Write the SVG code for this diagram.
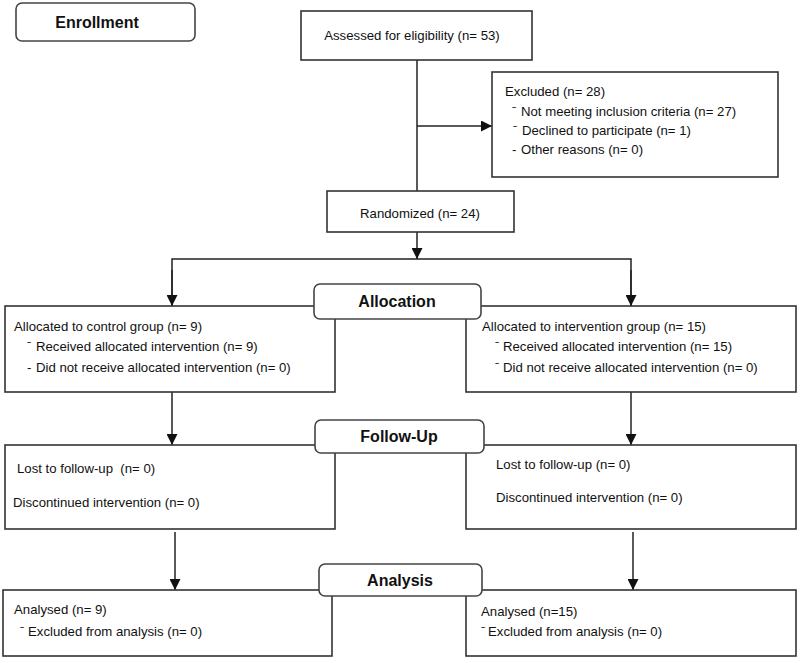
<svg xmlns="http://www.w3.org/2000/svg" width="800" height="663" viewBox="0 0 800 663">
<style>
.box{fill:#fff;stroke:#333;stroke-width:1.6}
.lbl{fill:#fff;stroke:#444;stroke-width:1.6}
.t{font-family:"Liberation Sans",Arial,sans-serif;font-size:13.2px;fill:#111}
.h{font-family:"Liberation Sans",Arial,sans-serif;font-size:16px;font-weight:bold;fill:#111;text-anchor:middle}
.c{text-anchor:middle}
.con{fill:none;stroke:#222;stroke-width:1.5}
</style>
<defs>
<marker id="arr" markerWidth="11" markerHeight="11" refX="11" refY="5.5" orient="auto" markerUnits="userSpaceOnUse">
<path d="M0,0 L11,5.5 L0,11 z" fill="#111"/>
</marker>
</defs>
<rect width="800" height="663" fill="#fff"/>

<g id="connectors">
<line class="con" x1="417" y1="60" x2="417" y2="191"/>
<line class="con" x1="417" y1="126" x2="492" y2="126" marker-end="url(#arr)"/>
<line class="con" x1="417" y1="232" x2="417" y2="259" marker-end="url(#arr)"/>
<polyline class="con" points="172,306 172,259 631,259 631,306"/>
<line class="con" x1="172" y1="270" x2="172" y2="306" marker-end="url(#arr)"/>
<line class="con" x1="631" y1="270" x2="631" y2="306" marker-end="url(#arr)"/>
<line class="con" x1="172" y1="392" x2="172" y2="445" marker-end="url(#arr)"/>
<line class="con" x1="631" y1="392" x2="631" y2="445" marker-end="url(#arr)"/>
<line class="con" x1="175" y1="532" x2="175" y2="590" marker-end="url(#arr)"/>
<line class="con" x1="633" y1="532" x2="633" y2="590" marker-end="url(#arr)"/>
</g>

<g id="enrollment">
<rect class="lbl" x="16" y="3" width="179" height="38" rx="6"/>
<text class="h" x="97" y="28">Enrollment</text>
</g>

<g id="assessed">
<rect class="box" x="301" y="11" width="231" height="49"/>
<text class="t c" x="412" y="40">Assessed for eligibility (n= 53)</text>
</g>

<g id="excluded">
<rect class="box" x="492" y="72" width="286" height="105"/>
<text class="t" x="505" y="96">Excluded (n= 28)</text>
<text class="t" x="512" y="116">ˉ</text><text class="t" x="521" y="116">Not meeting inclusion criteria (n= 27)</text>
<text class="t" x="513" y="135">ˉ</text><text class="t" x="522" y="135">Declined to participate (n= 1)</text>
<text class="t" x="512" y="154">-</text><text class="t" x="521" y="154">Other reasons (n= 0)</text>
</g>

<g id="randomized">
<rect class="box" x="327" y="191" width="187" height="41"/>
<text class="t c" x="420" y="218">Randomized (n= 24)</text>
</g>

<g id="alloc-control">
<rect class="box" x="5" y="306" width="330" height="86"/>
<text class="t" x="14" y="331">Allocated to control group (n= 9)</text>
<text class="t" x="27" y="351">ˉ</text><text class="t" x="36" y="351">Received allocated intervention (n= 9)</text>
<text class="t" x="27" y="372">-</text><text class="t" x="36" y="372">Did not receive allocated intervention (n= 0)</text>
</g>

<g id="alloc-intervention">
<rect class="box" x="466" y="306" width="330" height="86"/>
<text class="t" x="482" y="331">Allocated to intervention group (n= 15)</text>
<text class="t" x="495" y="351">ˉ</text><text class="t" x="503" y="351">Received allocated intervention (n= 15)</text>
<text class="t" x="495" y="372">ˉ</text><text class="t" x="503" y="372">Did not receive allocated intervention (n= 0)</text>
</g>

<g id="allocation">
<rect class="lbl" x="314" y="284" width="167" height="35" rx="6"/>
<text class="h" x="397" y="307">Allocation</text>
</g>

<g id="followup-control">
<rect class="box" x="5" y="445" width="330" height="84"/>
<text class="t" x="17" y="473" xml:space="preserve" style="white-space:pre">Lost to follow-up  (n= 0)</text>
<text class="t" x="13" y="507">Discontinued intervention (n= 0)</text>
</g>

<g id="followup-intervention">
<rect class="box" x="466" y="445" width="330" height="84"/>
<text class="t" x="496" y="469">Lost to follow-up (n= 0)</text>
<text class="t" x="496" y="502">Discontinued intervention (n= 0)</text>
</g>

<g id="followup">
<rect class="lbl" x="315" y="420" width="169" height="33" rx="6"/>
<text class="h" x="399" y="442">Follow-Up</text>
</g>

<g id="analysis-control">
<rect class="box" x="3" y="590" width="329" height="66"/>
<text class="t" x="14" y="614">Analysed (n= 9)</text>
<text class="t" x="20" y="636">ˉ</text><text class="t" x="28" y="636">Excluded from analysis (n= 0)</text>
</g>

<g id="analysis-intervention">
<rect class="box" x="466" y="590" width="330" height="66"/>
<text class="t" x="481" y="616">Analysed (n=15)</text>
<text class="t" x="481" y="636">ˉ</text><text class="t" x="488" y="636">Excluded from analysis (n= 0)</text>
</g>

<g id="analysis">
<rect class="lbl" x="319" y="564" width="163" height="32" rx="6"/>
<text class="h" x="400" y="586">Analysis</text>
</g>
</svg>
